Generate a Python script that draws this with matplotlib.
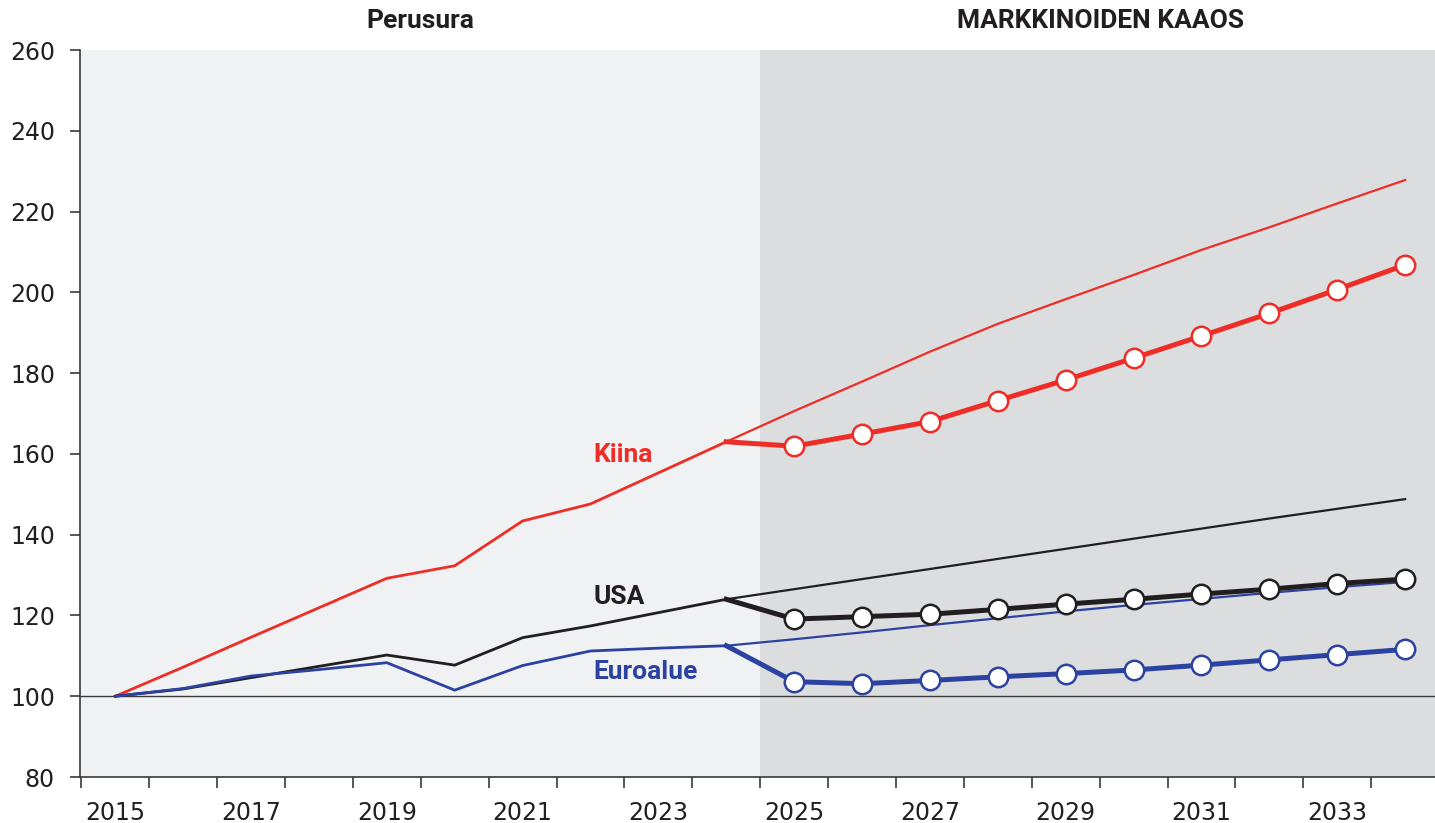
import matplotlib
matplotlib.use("Agg")
import matplotlib.pyplot as plt

years_hist = list(range(2015, 2025))
years_proj = list(range(2024, 2035))
years_scen = list(range(2024, 2035))

china_hist = [100, 107.2, 114.6, 121.9, 129.2, 132.3, 143.4, 147.6, 155.3, 163.0]
usa_hist = [100, 101.8, 104.6, 107.4, 110.2, 107.7, 114.5, 117.4, 120.7, 124.0]
euro_hist = [100, 101.9, 105.0, 106.6, 108.3, 101.5, 107.6, 111.2, 111.9, 112.5]

china_base = [163.0, 170.6, 177.9, 185.3, 192.2, 198.3, 204.3, 210.5, 216.1, 222.0, 227.8]
usa_base = [124.0, 126.5, 129.0, 131.5, 134.0, 136.5, 139.0, 141.5, 144.0, 146.4, 148.8]
euro_base = [112.5, 114.1, 115.8, 117.6, 119.3, 121.0, 122.6, 124.1, 125.6, 127.0, 128.3]

china_scen = [163.0, 161.9, 164.9, 168.0, 173.2, 178.3, 183.7, 189.2, 194.8, 200.7, 206.8]
usa_scen = [124.0, 119.1, 119.7, 120.3, 121.5, 122.8, 124.0, 125.3, 126.5, 127.9, 129.0]
euro_scen = [112.5, 103.6, 103.1, 103.9, 104.8, 105.6, 106.5, 107.7, 109.0, 110.3, 111.6]

series_labels = ["Kiina", "USA", "Euroalue"]
panel_titles = ["Perusura", "MARKKINOIDEN KAAOS"]
y_ticks = [80, 100, 120, 140, 160, 180, 200, 220, 240, 260]
x_label_years = [2015, 2017, 2019, 2021, 2023, 2025, 2027, 2029, 2031, 2033]

RED = "#ee2d26"
BLACK = "#221e1f"
BLUE = "#2b42a0"

plt.rcParams['font.family'] = ['DejaVu Sans']
BOLD_FAMILY = ['Roboto', 'DejaVu Sans']

fig = plt.figure(figsize=(14.35, 8.23), dpi=100)
ax = fig.add_axes([80/1435, 1-777/823, 1-80/1435, (777-50)/823])

xmin, xmax = 2014.48, 2034.44
ax.set_xlim(xmin, xmax)
ax.set_ylim(80, 260)
ax.set_facecolor("#f0f1f3")
ax.axvspan(2024.5, xmax, color="#dcdddf", zorder=0, lw=0)
ax.axhline(100, color="#3a3a3a", lw=1.0, zorder=1)

ax.plot(years_hist, china_hist, color=RED, lw=2.0, zorder=3)
ax.plot(years_hist, usa_hist, color=BLACK, lw=2.0, zorder=3)
ax.plot(years_hist, euro_hist, color=BLUE, lw=2.0, zorder=3)

ax.plot(years_proj, china_base, color=RED, lw=1.6, zorder=3)
ax.plot(years_proj, usa_base, color=BLACK, lw=1.6, zorder=3)
ax.plot(years_proj, euro_base, color=BLUE, lw=1.6, zorder=3)

for vals, c in [(china_scen, RED), (usa_scen, BLACK), (euro_scen, BLUE)]:
    ax.plot(years_scen, vals, color=c, lw=3.6, zorder=4)
    ax.plot(years_scen[1:], vals[1:], ls="none", marker="o", ms=14,
            mfc="white", mec=c, mew=1.8, zorder=5)

label_x = 2022.04
ax.text(label_x, 159.7, series_labels[0], color=RED, fontsize=19, fontweight="bold",
        family=BOLD_FAMILY, ha="left", va="center")
ax.text(label_x, 124.6, series_labels[1], color=BLACK, fontsize=19, fontweight="bold",
        family=BOLD_FAMILY, ha="left", va="center")
ax.text(label_x, 106.0, series_labels[2], color=BLUE, fontsize=19, fontweight="bold",
        family=BOLD_FAMILY, ha="left", va="center")

fig.text(420/1435, 1-21/823, panel_titles[0], fontsize=19, fontweight="bold",
         family=BOLD_FAMILY, ha="center", va="center", color=BLACK)
fig.text(1101/1435, 1-21/823, panel_titles[1], fontsize=19, fontweight="bold",
         family=BOLD_FAMILY, ha="center", va="center", color=BLACK)

ax.set_yticks(y_ticks)
ax.set_yticklabels([str(v) for v in y_ticks])
ax.set_xticks(x_label_years)
ax.set_xticklabels([str(v) for v in x_label_years])
ax.set_xticks([y + 0.5 for y in range(2014, 2034)], minor=True)
ax.tick_params(axis="x", which="major", length=0, labelsize=17, pad=17, colors="#231f20")
ax.tick_params(axis="x", which="minor", length=8, width=1.2, color="#3a3a3a")
ax.tick_params(axis="y", which="major", length=7, width=1.2, color="#3a3a3a",
               labelsize=17, labelcolor="#231f20", pad=11)

for s in ["top", "right"]:
    ax.spines[s].set_visible(False)
for s in ["left", "bottom"]:
    ax.spines[s].set_color("#3a3a3a")
    ax.spines[s].set_linewidth(1.2)

fig.savefig("out.png", dpi=100)
